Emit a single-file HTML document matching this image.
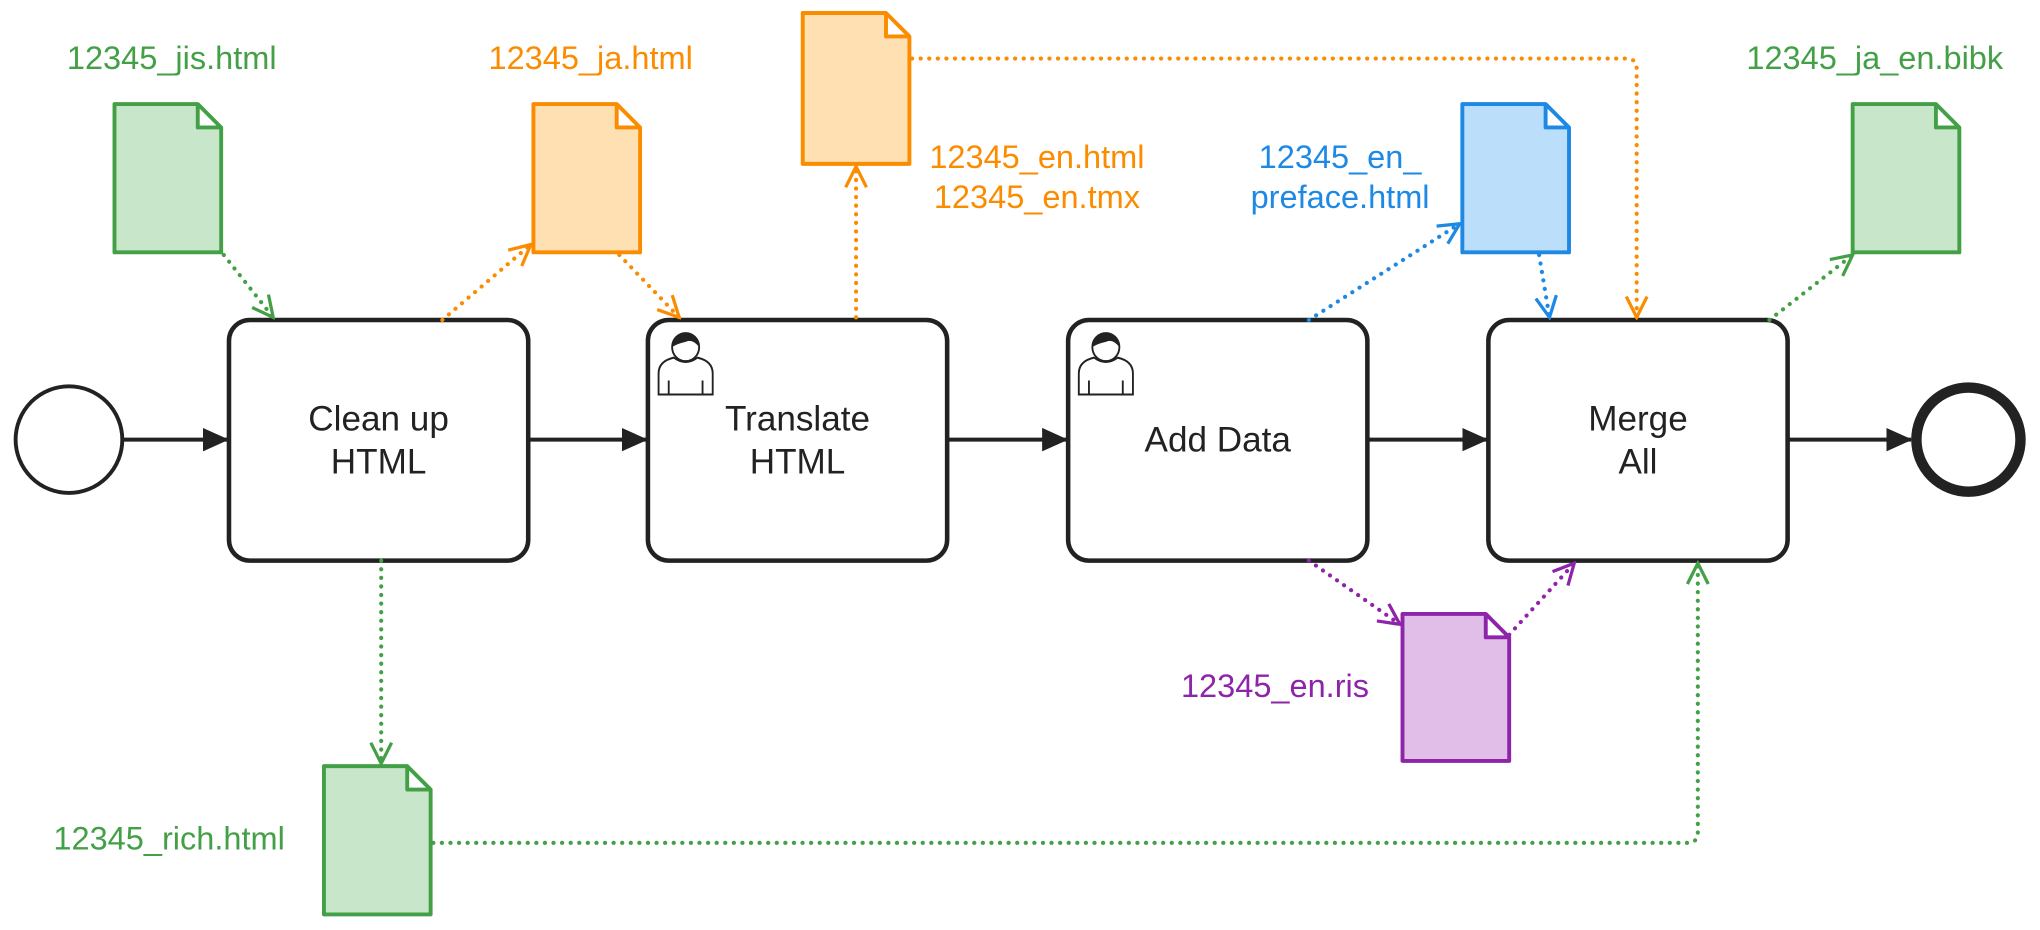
<!DOCTYPE html>
<html><head><meta charset="utf-8"><style>
html,body{margin:0;padding:0;background:#fff;width:2040px;height:930px;overflow:hidden}
svg{display:block}
text{font-family:"Liberation Sans",Arial,sans-serif}
</style></head><body>
<svg width="2040" height="930" viewBox="0 0 1568 715" preserveAspectRatio="none" xmlns="http://www.w3.org/2000/svg">
<defs>
<marker id="ab" viewBox="0 0 20 20" refX="19" refY="10" markerWidth="20" markerHeight="20" markerUnits="userSpaceOnUse" orient="auto"><path d="M0,1 L20,10 L0,19 Z" fill="#222"/></marker>
<marker id="og" viewBox="0 0 20 20" refX="18" refY="10" markerWidth="20" markerHeight="20" markerUnits="userSpaceOnUse" orient="auto"><path d="M2,2 L18,10 L2,18" fill="none" stroke="#43a047" stroke-width="2.5"/></marker>
<marker id="oo" viewBox="0 0 20 20" refX="18" refY="10" markerWidth="20" markerHeight="20" markerUnits="userSpaceOnUse" orient="auto"><path d="M2,2 L18,10 L2,18" fill="none" stroke="#fb8c00" stroke-width="2.5"/></marker>
<marker id="obl" viewBox="0 0 20 20" refX="18" refY="10" markerWidth="20" markerHeight="20" markerUnits="userSpaceOnUse" orient="auto"><path d="M2,2 L18,10 L2,18" fill="none" stroke="#1e88e5" stroke-width="2.5"/></marker>
<marker id="op" viewBox="0 0 20 20" refX="18" refY="10" markerWidth="20" markerHeight="20" markerUnits="userSpaceOnUse" orient="auto"><path d="M2,2 L18,10 L2,18" fill="none" stroke="#8e24aa" stroke-width="2.5"/></marker>
<g id="person">
<path d="M4,38 V26 Q4,19 13,17 Q20,22 27,17 Q36,19 36,26 V38 Z" fill="#fff" stroke="#222" stroke-width="1.1"/>
<path d="M10,30 V38 M30,30 V38" stroke="#222" stroke-width="1.1"/>
<circle cx="20" cy="11" r="8" fill="#fff" stroke="#222" stroke-width="1.1"/>
<path d="M12,11 Q12,3 20,3 Q28,3 28,11 Q24,6 20,8 Q15,9 12,11Z" fill="#222"/>
</g>
</defs>

<g stroke="#222" stroke-width="3" fill="none">
<line x1="95" y1="338" x2="175" y2="338" marker-end="url(#ab)"/>
<line x1="406" y1="338" x2="497" y2="338" marker-end="url(#ab)"/>
<line x1="728" y1="338" x2="820" y2="338" marker-end="url(#ab)"/>
<line x1="1051" y1="338" x2="1143" y2="338" marker-end="url(#ab)"/>
<line x1="1374" y1="338" x2="1469" y2="338" marker-end="url(#ab)"/>
</g>

<circle cx="53" cy="338" r="41" fill="#fff" stroke="#222" stroke-width="3"/>
<circle cx="1513" cy="338" r="40" fill="#fff" stroke="#222" stroke-width="8"/>

<g fill="#fff" stroke="#222" stroke-width="3.5">
<rect x="176" y="246" width="230" height="185" rx="16"/>
<rect x="498" y="246" width="230" height="185" rx="16"/>
<rect x="821" y="246" width="230" height="185" rx="16"/>
<rect x="1144" y="246" width="230" height="185" rx="16"/>
</g>
<use href="#person" transform="translate(501,252) scale(1.3,1.35)"/>
<use href="#person" transform="translate(824,252) scale(1.3,1.35)"/>
<g font-size="27" fill="#222" text-anchor="middle">
<text x="291" y="331">Clean up</text><text x="291" y="364">HTML</text>
<text x="613" y="331">Translate</text><text x="613" y="364">HTML</text>
<text x="936" y="347">Add Data</text>
<text x="1259" y="331">Merge</text><text x="1259" y="364">All</text>
</g>

<g fill="none" stroke-width="3.2" stroke-dasharray="0.1 6.5" stroke-linecap="round">
<path d="M172,196 L210,244" stroke="#43a047" marker-end="url(#og)"/>
<path d="M340,246 L408,188" stroke="#fb8c00" marker-end="url(#oo)"/>
<path d="M476,196 L522,244" stroke="#fb8c00" marker-end="url(#oo)"/>
<path d="M658,244 L658,128" stroke="#fb8c00" marker-end="url(#oo)"/>
<path d="M701,45 L1250,45 Q1258,45 1258,53 L1258,244" stroke="#fb8c00" marker-end="url(#oo)"/>
<path d="M1006,246 L1122,172" stroke="#1e88e5" marker-end="url(#obl)"/>
<path d="M1183,196 L1191,244" stroke="#1e88e5" marker-end="url(#obl)"/>
<path d="M1360,246 L1424,196" stroke="#43a047" marker-end="url(#og)"/>
<path d="M1006,431 L1076,480" stroke="#8e24aa" marker-end="url(#op)"/>
<path d="M1160,488 L1210,433" stroke="#8e24aa" marker-end="url(#op)"/>
<path d="M293,431 L293,587" stroke="#43a047" marker-end="url(#og)"/>
<path d="M333,648 L1297,648 Q1305,648 1305,640 L1305,433" stroke="#43a047" marker-end="url(#og)"/>
</g>

<g stroke-width="3" stroke-linejoin="round">
<path d="M88,80 H152 L170,98 V194 H88 Z M152,80 V98 H170" fill="#c8e6c9" stroke="#43a047"/>
<path d="M410,80 H474 L492,98 V194 H410 Z M474,80 V98 H492" fill="#ffe0b2" stroke="#fb8c00"/>
<path d="M617,10 H681 L699,28 V126 H617 Z M681,10 V28 H699" fill="#ffe0b2" stroke="#fb8c00"/>
<path d="M1124,80 H1188 L1206,98 V194 H1124 Z M1188,80 V98 H1206" fill="#bbdefb" stroke="#1e88e5"/>
<path d="M1424,80 H1488 L1506,98 V194 H1424 Z M1488,80 V98 H1506" fill="#c8e6c9" stroke="#43a047"/>
<path d="M1078,472 H1142 L1160,490 V585 H1078 Z M1142,472 V490 H1160" fill="#e1bee7" stroke="#8e24aa"/>
<path d="M249,589 H313 L331,607 V703 H249 Z M313,589 V607 H331" fill="#c8e6c9" stroke="#43a047"/>
</g>

<g font-size="25" text-anchor="middle">
<text x="132" y="53" fill="#43a047">12345_jis.html</text>
<text x="454" y="53" fill="#fb8c00">12345_ja.html</text>
<text x="797" y="129" fill="#fb8c00">12345_en.html</text>
<text x="797" y="160" fill="#fb8c00">12345_en.tmx</text>
<text x="1030" y="129" fill="#1e88e5">12345_en_</text>
<text x="1030" y="160" fill="#1e88e5">preface.html</text>
<text x="1441" y="53" fill="#43a047">12345_ja_en.bibk</text>
<text x="980" y="536" fill="#8e24aa">12345_en.ris</text>
<text x="130" y="653" fill="#43a047">12345_rich.html</text>
</g>
</svg>
</body></html>
